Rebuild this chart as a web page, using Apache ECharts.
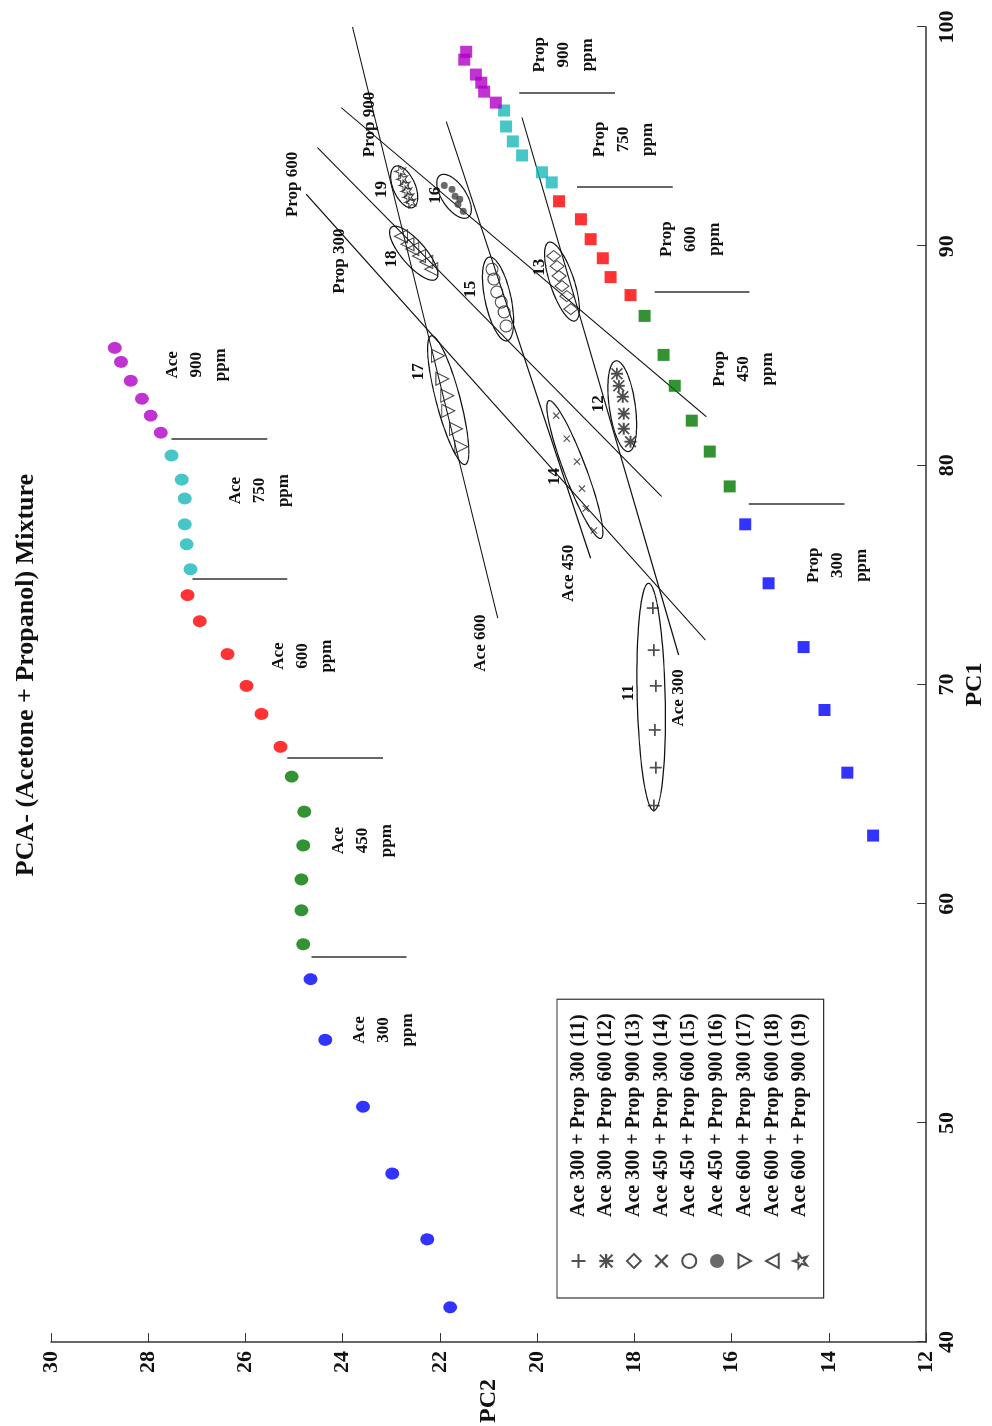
<!DOCTYPE html>
<html><head><meta charset="utf-8">
<script src="https://cdn.jsdelivr.net/npm/echarts@6/dist/echarts.min.js"></script>
<style>
html,body{margin:0;padding:0;background:#fff;overflow:hidden;width:992px;height:1426px;}
#chart{position:absolute;left:0;top:0;width:1426px;height:992px;transform-origin:0 0;transform:translate(0,1426px) rotate(-90deg);background:#fff;}
</style></head><body><div id="chart"></div>
<script>
// ---- data: [PC1, PC2] ----
const ace300 = [[41.59,21.79],[44.69,22.26],[47.69,22.98],[50.74,23.58],[53.79,24.36],[56.56,24.66]];
const ace450 = [[58.15,24.81],[59.70,24.85],[61.11,24.85],[62.66,24.81],[64.20,24.79],[65.80,25.05]];
const ace600 = [[67.16,25.28],[68.66,25.67],[69.94,25.98],[71.39,26.37],[72.89,26.94],[74.08,27.19]];
const ace750 = [[75.26,27.13],[76.40,27.21],[77.31,27.25],[78.49,27.25],[79.35,27.31],[80.45,27.52]];
const ace900 = [[81.49,27.74],[82.27,27.95],[83.04,28.13],[83.86,28.36],[84.72,28.56],[85.36,28.69]];

const prop300 = [[63.11,13.09],[65.98,13.62],[68.84,14.09],[71.71,14.52],[74.62,15.24],[77.31,15.72]];
const prop450 = [[79.04,16.04],[80.63,16.45],[82.04,16.82],[83.63,17.17],[85.04,17.40],[86.82,17.79]];
const prop600 = [[87.77,18.08],[88.59,18.49],[89.45,18.65],[90.32,18.90],[91.23,19.10],[92.05,19.55]];
const prop750 = [[92.91,19.70],[93.37,19.90],[94.14,20.31],[94.78,20.50],[95.46,20.64],[96.19,20.68]];
const prop900 = [[96.55,20.85],[97.05,21.09],[97.46,21.15],[97.83,21.26],[98.51,21.50],[98.87,21.46]];

const mix11 = [[73.49,17.62],[71.57,17.60],[69.94,17.56],[67.93,17.58],[66.21,17.56],[64.48,17.60]];
const mix12 = [[84.18,18.36],[83.63,18.32],[83.13,18.24],[82.36,18.22],[81.67,18.22],[81.08,18.08]];
const mix13 = [[89.55,19.66],[89.09,19.59],[88.64,19.55],[88.18,19.49],[87.72,19.39],[87.13,19.31]];
const mix14 = [[82.27,19.61],[81.22,19.39],[80.17,19.18],[78.94,19.08],[78.03,19.00],[77.03,18.83]];
const mix15 = [[88.95,20.93],[88.50,20.89],[87.91,20.83],[87.45,20.74],[87.00,20.68],[86.36,20.64]];
const mix16 = [[92.77,21.91],[92.59,21.75],[92.28,21.69],[91.91,21.63],[92.14,21.59],[91.59,21.52]];
const mix17 = [[85.00,22.04],[83.95,21.95],[83.18,21.85],[82.49,21.83],[81.67,21.67],[80.85,21.56]];
const mix18 = [[90.45,22.80],[90.09,22.67],[89.87,22.57],[89.55,22.43],[89.28,22.28],[88.95,22.18]];
const mix19 = [[93.41,22.82],[93.05,22.78],[92.77,22.73],[92.50,22.69],[92.23,22.65],[92.00,22.61]];

const mixNames = ['Ace 300 + Prop 300 (11)','Ace 300 + Prop 600 (12)','Ace 300 + Prop 900 (13)',
  'Ace 450 + Prop 300 (14)','Ace 450 + Prop 600 (15)','Ace 450 + Prop 900 (16)',
  'Ace 600 + Prop 300 (17)','Ace 600 + Prop 600 (18)','Ace 600 + Prop 900 (19)'];

// ellipses: major-axis end points [PC1a, PC2a, PC1b, PC2b]
const ellipses = [[74.62,17.71,64.25,17.60],[84.77,18.38,80.63,18.12],[90.18,19.76,86.59,19.22],
  [82.95,19.76,76.67,18.69],[89.50,20.99,85.68,20.62],[93.23,22.00,91.32,21.42],
  [85.91,22.18,80.04,21.48],[90.86,23.00,88.50,22.08],[93.64,22.92,91.77,22.55]];
const ellipseHalfWidths = [14,13,12,11,13,12,12,12,11];

// long guide lines [[PC1,PC2],[PC1,PC2]]
const guideLines = [
  [[100.0,23.80],[73.03,20.81]],   // Ace 600
  [[95.69,21.87],[75.76,18.90]],   // Ace 450
  [[95.87,20.31],[71.35,17.09]],   // Ace 300
  [[96.32,24.03],[82.22,16.52]],   // Prop 900
  [[94.50,24.52],[78.58,17.44]],   // Prop 600
  [[92.37,24.75],[72.03,16.54]]    // Prop 300
];
// short separators at PC1 between PC2 a..b
const separators = [[81.17,27.52,25.55],[74.80,27.09,25.14],[66.66,25.14,23.17],[57.56,24.64,22.69],
  [96.96,20.37,18.40],[92.68,19.18,17.21],[87.91,17.58,15.63],[78.22,15.65,13.68]];

// text annotations [PC1, PC2]
const annotPos = [[84.59,27.00],[78.85,25.71],[71.30,24.83],[62.88,23.60],[54.24,23.15],
  [98.73,19.45],[94.87,18.22],[90.32,16.84],[84.40,15.76],[75.44,13.81]];
const annotText = ['Ace\n900\nppm','Ace\n750\nppm','Ace\n600\nppm','Ace\n450\nppm','Ace\n300\nppm',
  'Prop\n900\nppm','Prop\n750\nppm','Prop\n600\nppm','Prop\n450\nppm','Prop\n300\nppm'];
const lineLabelPos = [[95.55,23.45],[92.82,25.03],[89.32,24.07],[71.89,21.17],[75.08,19.35],[69.39,17.09],
  [92.59,23.19],[92.32,22.08],[89.41,23.00],[88.04,21.36],[89.04,19.96],[84.27,22.43],[82.81,18.73],[79.49,19.64],[69.62,18.12]];
const lineLabelText = ['Prop 900','Prop 600','Prop 300','Ace 600','Ace 450','Ace 300',
  '19','16','18','15','13','17','12','14','11'];

const pc1Ticks = {min:40, max:100, interval:10};
const pc2Ticks = {min:12, max:30, interval:2};

// ---- chart ----
const FONT = '"Liberation Serif","Times New Roman",serif';
const chart = echarts.init(document.getElementById('chart'), null, {width:1426, height:992});

const PLUS = 'path://M4.3,0H5.7V4.3H10V5.7H5.7V10H4.3V5.7H0V4.3H4.3Z';
const CROSS = 'path://M0,1.1L1.1,0L5,3.9L8.9,0L10,1.1L6.1,5L10,8.9L8.9,10L5,6.1L1.1,10L0,8.9L3.9,5Z';
const ASTER = 'path://M4.2,0H5.8V4.2H10V5.8H5.8V10H4.2V5.8H0V4.2H4.2Z M1,0L5,4L9,0L10,1L6,5L10,9L9,10L5,6L1,10L0,9L4,5L0,1Z';
const STAR = 'path://M5,0L6.2,3.6L10,3.6L7,5.9L8.1,9.6L5,7.3L1.9,9.6L3,5.9L0,3.6L3.8,3.6Z';
const TRI_DOWN = 'path://M0,0L10,0L5,9Z';
const TRI_UP = 'path://M5,0L10,9L0,9Z';
const INK = '#222';
const hollow = {color:'rgba(0,0,0,0)', borderColor:INK, borderWidth:1.1};
const solid = {color:INK};
const mixSpec = [
  [mix11, PLUS, 12, solid],
  [mix12, ASTER, 12, solid],
  [mix13, 'diamond', [11,14], hollow],
  [mix14, CROSS, 7, solid],
  [mix15, 'circle', 12, hollow],
  [mix16, 'circle', 7, {color:'#444'}],
  [mix17, TRI_DOWN, 13, hollow],
  [mix18, TRI_UP, 13, hollow],
  [mix19, STAR, 11, hollow]
];

function scatter(name, data, symbol, size, color){
  return {type:'scatter', name, data, symbol, symbolSize:size, itemStyle:{color}, z:3, silent:true};
}

const series = [];
series.push({
  type:'lines', coordinateSystem:'cartesian2d', silent:true, z:1,
  lineStyle:{color:'#111', width:1.1, opacity:1},
  data: guideLines.map(l => ({coords:l}))
});
series.push({
  type:'lines', coordinateSystem:'cartesian2d', silent:true, z:1,
  lineStyle:{color:'#333', width:1.5, opacity:1},
  data: separators.map(s => ({coords:[[s[0],s[1]],[s[0],s[2]]]}))
});
series.push({
  type:'custom', silent:true, z:2, clip:false,
  data: ellipses,
  encode:{x:[0,2], y:[1,3]},
  renderItem(params, api){
    const p1 = api.coord([api.value(0), api.value(1)]);
    const p2 = api.coord([api.value(2), api.value(3)]);
    const hw = ellipseHalfWidths[params.dataIndex];
    const cx=(p1[0]+p2[0])/2, cy=(p1[1]+p2[1])/2;
    const dx=p2[0]-p1[0], dy=p2[1]-p1[1];
    const L=Math.hypot(dx,dy), a=L/2, ux=dx/L, uy=dy/L, nx=-uy, ny=ux;
    const pts=[];
    for(let i=0;i<96;i++){const t=i/96*Math.PI*2;
      pts.push([cx+a*Math.cos(t)*ux+hw*Math.sin(t)*nx, cy+a*Math.cos(t)*uy+hw*Math.sin(t)*ny]);}
    return {type:'polygon', shape:{points:pts}, style:{fill:'none', stroke:'#111', lineWidth:1.2}};
  }
});
const groupCols = ['#0000ff','#007800','#ff0000','#18b8b8','#b000c4'];
[ace300,ace450,ace600,ace750,ace900].forEach((d,i)=>series.push(scatter('ace'+i, d, 'circle', [12,14], groupCols[i])));
[prop300,prop450,prop600,prop750,prop900].forEach((d,i)=>series.push(scatter('prop'+i, d, 'rect', 12, groupCols[i])));
mixSpec.forEach((m,i)=>series.push({type:'scatter', name:mixNames[i], data:m[0], symbol:m[1], symbolSize:m[2],
  itemStyle:m[3], z:4, silent:true}));
function textSeries(pos, texts, fontSize, lineHeight){
  return {type:'custom', silent:true, z:5, clip:false, data:pos, encode:{x:0,y:1},
    renderItem(params, api){
      const p = api.coord([api.value(0), api.value(1)]);
      return {type:'text', x:p[0], y:p[1], style:{text:texts[params.dataIndex], align:'center', verticalAlign:'middle',
        fontFamily:FONT, fontSize, fontWeight:'bold', lineHeight, fill:'#111'}};
    }};
}
series.push(textSeries(annotPos, annotText, 17, 24));
series.push(textSeries(lineLabelPos, lineLabelText, 17, 20));

chart.setOption({
  animation:false,
  backgroundColor:'#fff',
  title:{text:'PCA- (Acetone + Propanol) Mixture', left:746, top:8, textAlign:'center',
    textStyle:{fontFamily:FONT, fontSize:26, fontWeight:'bold', color:'#111'}},
  grid:{left:80, right:27, top:51, bottom:64},
  legend:{orient:'vertical', left:128, top:557, padding:[11,14,13,29], itemWidth:14, itemHeight:14, itemGap:6.7,
    borderColor:'#333', borderWidth:1.2, selectedMode:false, data:mixNames,
    textStyle:{fontFamily:FONT, fontSize:20, fontWeight:'bold', color:'#111', lineHeight:21, padding:[0,0,0,32]}},
  xAxis:{type:'value', min:pc1Ticks.min, max:pc1Ticks.max, interval:pc1Ticks.interval,
    name:'PC1', nameLocation:'middle', nameGap:35,
    nameTextStyle:{fontFamily:FONT, fontSize:24, fontWeight:'bold', color:'#111'},
    axisLine:{lineStyle:{color:'#333', width:1.5}}, axisTick:{inside:true, length:9, lineStyle:{color:'#333'}},
    axisLabel:{fontFamily:FONT, fontSize:22, fontWeight:'bold', color:'#111', margin:10},
    splitLine:{show:false}},
  yAxis:{type:'value', min:pc2Ticks.min, max:pc2Ticks.max, interval:pc2Ticks.interval,
    name:'PC2', nameLocation:'middle', nameGap:32, nameRotate:0,
    nameTextStyle:{fontFamily:FONT, fontSize:24, fontWeight:'bold', color:'#111', padding:[0,0,40,0]},
    axisLine:{show:true, lineStyle:{color:'#333', width:1.5}}, axisTick:{show:true, inside:true, length:9, lineStyle:{color:'#333'}},
    axisLabel:{fontFamily:FONT, fontSize:22, fontWeight:'bold', color:'#111', margin:9},
    splitLine:{show:false}},
  series
});
</script></body></html>
